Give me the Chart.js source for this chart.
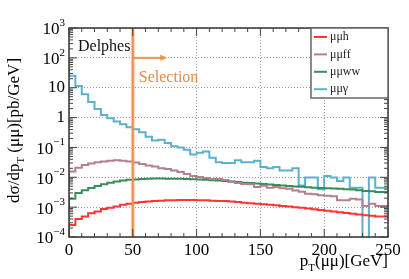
<!DOCTYPE html>
<html>
<head>
<meta charset="utf-8">
<script src="https://cdn.jsdelivr.net/npm/chart.js@4.4.0/dist/chart.umd.min.js"></script>
<style>
html, body { margin: 0; padding: 0; background: #fff; }
#wrap { width: 409px; height: 279px; }
</style>
</head>
<body>
<div id="wrap"><canvas id="hist_chart" width="409" height="279"></canvas></div>
<script>
// lower bin edges [GeV], 5 GeV bins
var binLow = [0, 5, 10, 15, 20, 25, 30, 35, 40, 45,
    50, 55, 60, 65, 70, 75, 80, 85, 90, 95,
    100, 105, 110, 115, 120, 125, 130, 135, 140, 145,
    150, 155, 160, 165, 170, 175, 180, 185, 190, 195,
    200, 205, 210, 215, 220, 225, 230, 235, 240, 245];
var binHigh = 250;

// dsigma/dpT [pb/GeV]; 1e-6 = empty bin
var mumuH = [1e-6, 0.00025, 0.0004, 0.00049, 0.00062, 0.00072, 0.00087, 0.00096, 0.00105, 0.0012,
    0.0013, 0.0014, 0.0015, 0.00155, 0.0016, 0.00165, 0.0017, 0.0017, 0.00175, 0.00175,
    0.00175, 0.0017, 0.0017, 0.00165, 0.0016, 0.0016, 0.00155, 0.0015, 0.0014, 0.00135,
    0.0013, 0.00125, 0.0012, 0.00115, 0.0011, 0.00105, 0.001, 0.00095, 0.0009, 0.00085,
    0.0008, 0.00076, 0.00072, 0.00068, 0.00064, 0.0006, 0.00057, 0.00054, 0.00051, 0.00049];
var mumuFF = [0.0054, 0.0155, 0.021, 0.026, 0.029, 0.032, 0.034, 0.036, 0.037, 0.036,
    0.034, 0.031, 0.028, 0.025, 0.023, 0.020, 0.019, 0.017, 0.015, 0.013,
    0.011, 0.0102, 0.0094, 0.0087, 0.0087, 0.0081, 0.0071, 0.0064, 0.006, 0.0058,
    0.0047, 0.0052, 0.0045, 0.0047, 0.0043, 0.0041, 0.0036, 0.0033, 0.0028, 0.0027,
    0.0025, 0.0024, 0.0023, 0.0017, 0.0017, 0.0019, 0.0018, 0.0011, 0.0013, 0.0011];
var mumuWW = [0.0008, 0.0019, 0.003, 0.0037, 0.0044, 0.0051, 0.0059, 0.0065, 0.0072, 0.0078,
    0.0082, 0.0085, 0.0088, 0.009, 0.0091, 0.0091, 0.009, 0.009, 0.0089, 0.0088,
    0.0086, 0.0084, 0.0082, 0.008, 0.0078, 0.0075, 0.0072, 0.0069, 0.0066, 0.0064,
    0.0062, 0.006, 0.0057, 0.0055, 0.0053, 0.0051, 0.0049, 0.0048, 0.0046, 0.0045,
    0.0044, 0.0043, 0.0042, 0.0041, 0.004, 0.0039, 0.0037, 0.0035, 0.0034, 0.0032];
var mumuGamma = [50, 25, 11.5, 6, 3.3, 1.95, 1.23, 0.95, 0.74, 0.60,
    0.47, 0.41, 0.32, 0.23, 0.17, 0.18, 0.14, 0.11, 0.10, 0.083,
    0.058, 0.066, 0.073, 0.045, 0.032, 0.030, 0.030, 0.037, 0.032, 0.032,
    0.036, 0.022, 0.020, 0.022, 0.017, 0.017, 0.020, 0.0053, 0.0098, 0.0098,
    0.004, 0.011, 0.0098, 0.0075, 0.0098, 0.0045, 0.0045, 1e-6, 0.0098, 0.0045];

var seriesLabels = ['μμh', 'μμff', 'μμww', 'μμγ'];
var seriesColors = ['#ff3535', '#b47f90', '#3b8d58', '#5cb2cd'];
var yDecades = [-4, -3, -2, -1, 0, 1, 2, 3];
var xMajor = [0, 50, 100, 150, 200, 250];
var cutValue = 50;
var arrowEnd = 77;
var serif = '"Liberation Serif", "Times New Roman", serif';

function stepPoints(values) {
    var pts = binLow.map(function (lo, i) {
        return { x: lo, y: values[i] };
    });
    pts.push({ x: binHigh, y: values[values.length - 1] });
    return pts;
}

function makeDataset(i, values) {
    return {
        label: seriesLabels[i],
        data: stepPoints(values),
        borderColor: seriesColors[i],
        borderWidth: 2,
        pointRadius: 0,
        stepped: 'after',
        fill: false
    };
}

// frame, ticks, y labels, titles, legend, cut line
var histDecor = {
    id: 'histDecor',
    afterDatasetsDraw: function (chart) {
        var ctx = chart.ctx, a = chart.chartArea;
        var xs = chart.scales.x, ys = chart.scales.y;
        ctx.save();

        // selection line + arrow
        var xc = xs.getPixelForValue(cutValue);
        ctx.strokeStyle = 'rgba(240,150,85,0.4)';
        ctx.lineWidth = 4;
        ctx.beginPath(); ctx.moveTo(xc, a.top); ctx.lineTo(xc, a.bottom); ctx.stroke();
        ctx.strokeStyle = '#ee9050';
        ctx.lineWidth = 2;
        ctx.beginPath(); ctx.moveTo(xc, a.top); ctx.lineTo(xc, a.bottom); ctx.stroke();
        var ya = ys.getPixelForValue(100);
        var xe = xs.getPixelForValue(arrowEnd);
        ctx.lineWidth = 2;
        ctx.beginPath(); ctx.moveTo(xc, ya); ctx.lineTo(xe - 4, ya); ctx.stroke();
        ctx.fillStyle = '#ee9050';
        ctx.beginPath(); ctx.moveTo(xe, ya); ctx.lineTo(xe - 7, ya - 3); ctx.lineTo(xe - 7, ya + 3); ctx.closePath(); ctx.fill();

        // texts inside
        ctx.font = '16px ' + serif;
        ctx.textBaseline = 'alphabetic';
        ctx.textAlign = 'left';
        ctx.fillStyle = '#111';
        ctx.fillText('Delphes', a.left + 9, 51);
        ctx.fillStyle = '#f0883e';
        ctx.fillText('Selection', xc + 6, 82);

        // frame
        ctx.strokeStyle = '#333';
        ctx.lineWidth = 1.5;
        ctx.strokeRect(a.left, a.top, a.right - a.left, a.bottom - a.top);

        // x ticks (bottom + top)
        ctx.lineWidth = 1;
        ctx.strokeStyle = '#444';
        for (var v = 0; v <= 250; v += 10) {
            var px = xs.getPixelForValue(v);
            var len = (v % 50 === 0) ? 8 : 4;
            ctx.beginPath();
            ctx.moveTo(px, a.bottom); ctx.lineTo(px, a.bottom - len);
            ctx.moveTo(px, a.top); ctx.lineTo(px, a.top + len);
            ctx.stroke();
        }
        // y ticks (left + right), log minor
        yDecades.forEach(function (e) {
            for (var m = 1; m <= 9; m++) {
                if (e === 3 && m > 1) break;
                var py = ys.getPixelForValue(m * Math.pow(10, e));
                var l = (m === 1) ? 8 : 4;
                ctx.beginPath();
                ctx.moveTo(a.left, py); ctx.lineTo(a.left + l, py);
                ctx.moveTo(a.right, py); ctx.lineTo(a.right - l, py);
                ctx.stroke();
            }
        });

        // y tick labels
        ctx.fillStyle = '#000';
        ctx.textAlign = 'right';
        ctx.textBaseline = 'middle';
        yDecades.forEach(function (e) {
            var py = ys.getPixelForValue(Math.pow(10, e));
            var xr = a.left - 4;
            if (e === 0 || e === 1) {
                ctx.font = '17px ' + serif;
                ctx.fillText(e === 0 ? '1' : '10', xr, py);
            } else {
                ctx.font = '11px ' + serif;
                var sup = e < 0 ? '\u2212' + (-e) : String(e);
                ctx.fillText(sup, xr, py - 5);
                var w = ctx.measureText(sup).width;
                ctx.font = '17px ' + serif;
                ctx.fillText('10', xr - w, py + 2);
            }
        });

        // x title
        ctx.textAlign = 'left';
        ctx.textBaseline = 'alphabetic';
        var parts = [['p', 17, 0], ['T', 11, 5], ['(μμ)[GeV]', 17, 0]];
        var total = 0;
        parts.forEach(function (p) { ctx.font = p[1] + 'px ' + serif; total += ctx.measureText(p[0]).width; });
        var tx = a.right - total, ty = 266;
        parts.forEach(function (p) {
            ctx.font = p[1] + 'px ' + serif;
            ctx.fillText(p[0], tx, ty + p[2]);
            tx += ctx.measureText(p[0]).width;
        });

        // y title
        ctx.save();
        ctx.translate(19, 203);
        ctx.rotate(-Math.PI / 2);
        var yparts = [['dσ/dp', 17, 0], ['T', 11, 5], [' (μμ)[pb/GeV]', 17, 0]];
        var ox = 0;
        yparts.forEach(function (p) {
            ctx.font = p[1] + 'px ' + serif;
            ctx.fillText(p[0], ox, p[2]);
            ox += ctx.measureText(p[0]).width;
        });
        ctx.restore();

        // legend box
        var lx = 311, ly = a.top, lw = a.right - 311, lh = 70;
        ctx.fillStyle = '#fff';
        ctx.fillRect(lx, ly, lw, lh);
        ctx.strokeStyle = '#666';
        ctx.lineWidth = 1.5;
        ctx.strokeRect(lx, ly, lw, lh);
        ctx.font = '12px ' + serif;
        ctx.textBaseline = 'middle';
        chart.data.datasets.forEach(function (ds, i) {
            var ey = ly + 9 + i * 17.4;
            ctx.strokeStyle = ds.borderColor;
            ctx.lineWidth = 2;
            ctx.beginPath(); ctx.moveTo(lx + 3, ey); ctx.lineTo(lx + 16, ey); ctx.stroke();
            ctx.fillStyle = '#222';
            ctx.fillText(ds.label, lx + 19, ey);
        });
        ctx.restore();
    }
};

new Chart(document.getElementById('hist_chart').getContext('2d'), {
    type: 'line',
    data: {
        datasets: [
            makeDataset(0, mumuH),
            makeDataset(1, mumuFF),
            makeDataset(2, mumuWW),
            makeDataset(3, mumuGamma)
        ]
    },
    options: {
        responsive: false,
        animation: false,
        events: [],
        layout: { padding: { left: 5, right: 21, top: 28, bottom: 0 } },
        plugins: { legend: { display: false }, tooltip: { enabled: false } },
        scales: {
            x: {
                type: 'linear',
                min: 0,
                max: 250,
                afterBuildTicks: function (scale) {
                    scale.ticks = xMajor.map(function (v) { return { value: v }; });
                },
                afterFit: function (scale) { scale.height = 42; },
                grid: { color: '#9a9a9a', lineWidth: 1, drawTicks: false },
                border: { display: false, dash: [1, 2] },
                ticks: {
                    padding: 3,
                    color: '#000',
                    font: { family: serif, size: 17 },
                    maxRotation: 0
                }
            },
            y: {
                type: 'logarithmic',
                min: 1e-4,
                max: 1e3,
                afterBuildTicks: function (scale) {
                    scale.ticks = yDecades.map(function (e) { return { value: Math.pow(10, e) }; });
                },
                afterFit: function (scale) { scale.width = 64; },
                grid: { color: '#9a9a9a', lineWidth: 1, drawTicks: false },
                border: { display: false, dash: [1, 2] },
                ticks: { display: false }
            }
        }
    },
    plugins: [histDecor]
});
</script>
</body>
</html>
